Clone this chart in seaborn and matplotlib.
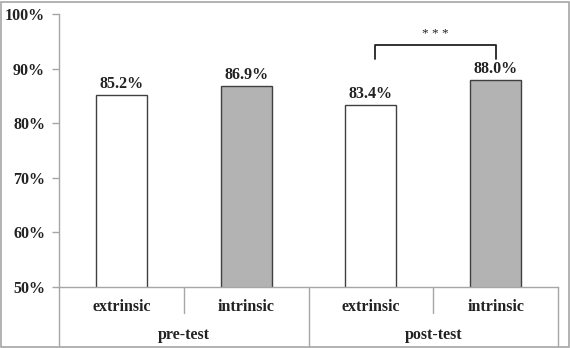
import matplotlib
matplotlib.use("Agg")
import matplotlib.pyplot as plt
import matplotlib.patches as mpatches
import seaborn as sns
import pandas as pd

# Data
phases = ["pre-test", "pre-test", "post-test", "post-test"]
motivation = ["extrinsic", "intrinsic", "extrinsic", "intrinsic"]
accuracy = [85.2, 86.9, 83.4, 88.0]
y_ticks = [50, 60, 70, 80, 90, 100]

df = pd.DataFrame({"phase": phases, "motivation": motivation, "accuracy": accuracy})
df["slot"] = df["phase"] + " " + df["motivation"]

sns.set_style("white")
plt.rcParams["font.family"] = ["Liberation Serif", "DejaVu Serif"]
plt.rcParams["font.weight"] = "bold"

W, H = 570, 348
fig = plt.figure(figsize=(W / 100, H / 100), dpi=100)
ax = fig.add_axes([59 / W, (H - 287) / H, (558 - 59) / W, (287 - 14) / H])

axis_grey = "#a6a6a6"
edge = "#404040"
txt = "#222222"
fs = 11.5

sns.barplot(data=df, x="slot", y="accuracy", hue="motivation", dodge=False,
            palette={"extrinsic": "white", "intrinsic": "#b3b3b3"},
            edgecolor=edge, linewidth=1.0, width=0.41, legend=False, ax=ax)

ax.set_ylim(50, 100)
ax.set_xlim(-0.5, 3.5)
ax.set_yticks(y_ticks)
ax.set_yticklabels([f"{t}%" for t in y_ticks], fontsize=fs, fontweight="bold",
                   color=txt)
ax.tick_params(axis="y", length=5, width=1, color=axis_grey, pad=5, left=True)
ax.set_xticks([])
ax.set_xlabel("")
ax.set_ylabel("")
for side in ["top", "right"]:
    ax.spines[side].set_visible(False)
for side in ["left", "bottom"]:
    ax.spines[side].set_color(axis_grey)
    ax.spines[side].set_linewidth(1)

# Value labels above bars
for i, v in enumerate(accuracy):
    ax.annotate(f"{v:.1f}%", (i, v), xytext=(0, 2), textcoords="offset points",
                ha="center", va="bottom", fontsize=fs, fontweight="bold",
                color=txt)

# Grouped category axis below the plot
trans = ax.get_xaxis_transform()
for x in [-0.5, 1.5, 3.5]:
    ax.plot([x, x], [0, -0.216], transform=trans, color=axis_grey, lw=1, clip_on=False)
for x in [0.5, 2.5]:
    ax.plot([x, x], [0, -0.095], transform=trans, color=axis_grey, lw=1, clip_on=False)
for i, m in enumerate(motivation):
    ax.text(i, -0.072, m, transform=trans, ha="center", va="center",
            fontsize=fs, fontweight="bold", color=txt)
for center, p in [(0.5, "pre-test"), (2.5, "post-test")]:
    ax.text(center, -0.176, p, transform=trans, ha="center", va="center",
            fontsize=fs, fontweight="bold", color=txt)

# Significance bracket between post-test bars
bx0, bx1 = 2.03, 3.0
ax.plot([bx0, bx0, bx1, bx1], [91.8, 94.3, 94.3, 91.8], color=txt,
        lw=1.3, clip_on=False)
ax.text((bx0 + bx1) / 2, 96.3, "* * *", ha="center", va="center", fontsize=9.5,
        fontweight="normal", color=txt)

# Frame around the whole figure
fig.patches.append(mpatches.Rectangle((1 / W, 1 / H), (W - 2.5) / W, (H - 2.5) / H,
                                      transform=fig.transFigure, fill=False,
                                      edgecolor=axis_grey, lw=1.2))

fig.savefig("out.png", dpi=100)
